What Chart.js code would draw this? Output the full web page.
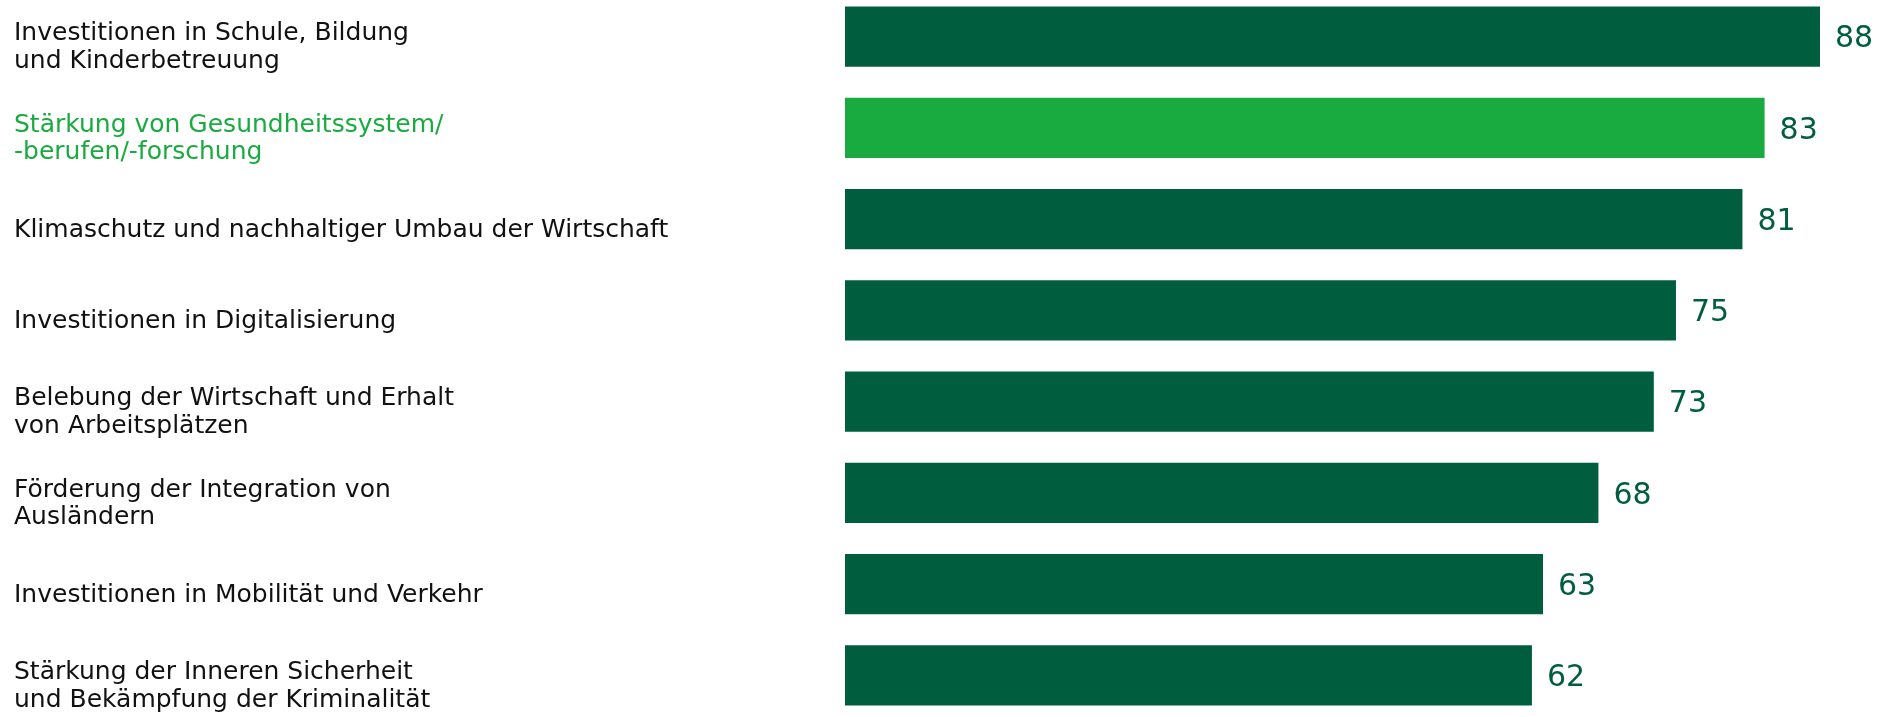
<!DOCTYPE html>
<html lang="de"><head>
<meta charset="utf-8">
<title>Investitionen</title>
<style>
  * { margin: 0; padding: 0; box-sizing: border-box; }
  body { width: 1880px; height: 717px; overflow: hidden; background: #ffffff; position: relative; }
  .wrap { position: absolute; left: 0; top: -9px; width: 1880px; height: 730px; }
</style>
</head>
<body>
<div class="wrap"><canvas id="chart"></canvas></div>
<script src="https://cdn.jsdelivr.net/npm/chart.js@4"></script>
<script>
// categories and values
const labels = [
  ["Investitionen in Schule, Bildung", "und Kinderbetreuung"],
  ["Stärkung von Gesundheitssystem/", "-berufen/-forschung"],
  "Klimaschutz und nachhaltiger Umbau der Wirtschaft",
  "Investitionen in Digitalisierung",
  ["Belebung der Wirtschaft und Erhalt", "von Arbeitsplätzen"],
  ["Förderung der Integration von", "Ausländern"],
  "Investitionen in Mobilität und Verkehr",
  ["Stärkung der Inneren Sicherheit", "und Bekämpfung der Kriminalität"]
];
const values = [88, 83, 81, 75, 73, 68, 63, 62];
const highlight = 1;

const darkGreen = "#005e3f";
const lightGreen = "#1aab40";

// numbers written just right of each bar
const valueLabels = {
  id: "valueLabels",
  afterDatasetsDraw(chart) {
    const ctx = chart.ctx;
    const meta = chart.getDatasetMeta(0);
    ctx.save();
    ctx.font = "30px 'DejaVu Sans'";
    ctx.fillStyle = darkGreen;
    ctx.textAlign = "left";
    ctx.textBaseline = "middle";
    meta.data.forEach((bar, i) => {
      ctx.fillText(String(values[i]), bar.x + 15, bar.y + 3);
    });
    ctx.restore();
  }
};

new Chart(document.getElementById("chart"), {
  type: "bar",
  plugins: [valueLabels],
  data: {
    labels: labels,
    datasets: [{
      data: values,
      backgroundColor: values.map((v, i) => i === highlight ? lightGreen : darkGreen),
      borderWidth: 0,
      barPercentage: 0.66,
      categoryPercentage: 1
    }]
  },
  options: {
    indexAxis: "y",
    responsive: true,
    maintainAspectRatio: false,
    animation: false,
    layout: { padding: { left: 14, right: 60, top: 0, bottom: 0 } },
    plugins: { legend: { display: false }, tooltip: { enabled: false } },
    scales: {
      x: {
        min: 0,
        max: 88,
        display: false
      },
      y: {
        grid: { display: false, drawTicks: false },
        border: { display: false },
        afterFit(scale) {
          scale.width = 831;
          // let the labels hang over the edges instead of shrinking the plot
          scale.paddingTop = 0;
          scale.paddingBottom = 0;
        },
        ticks: {
          crossAlign: "far",
          padding: 0,
          labelOffset: 11,
          color: (c) => c.index === highlight ? lightGreen : "#111111",
          font: { family: "DejaVu Sans", size: 25, lineHeight: 1.1 }
        }
      }
    }
  }
});
</script>
</body></html>
